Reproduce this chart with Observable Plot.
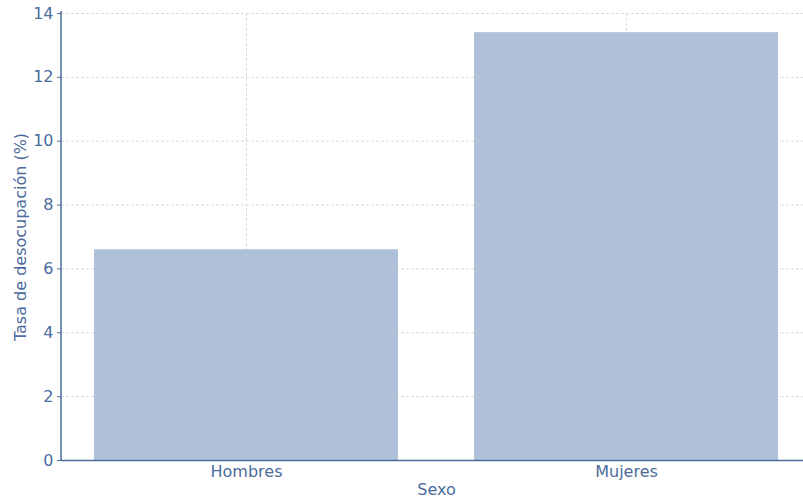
<!DOCTYPE html>
<html>
<head>
<meta charset="utf-8">
<script src="https://cdn.jsdelivr.net/npm/d3@7"></script>
<script src="https://cdn.jsdelivr.net/npm/@observablehq/plot@0.6"></script>
<style>
  html, body { margin: 0; padding: 0; background: #fff; }
  #chart svg { display: block; }
</style>
</head>
<body>
<div id="chart"></div>
<script>
const categories = ["Hombres", "Mujeres"];
const values = [6.6, 13.4];
const yTicks = [0, 2, 4, 6, 8, 10, 12, 14];
const yLabel = "Tasa de desocupación (%)";
const xLabel = "Sexo";

const data = categories.map((c, i) => ({sexo: c, tasa: values[i]}));

const axisColor = "#4a6b9b";
const barColor = "#afc1d8";
const gridColor = "#d6d6d6";

const leftSpine = (index, scales, values, dims) => {
  const g = d3.create("svg:g");
  g.append("line")
    .attr("x1", dims.marginLeft).attr("x2", dims.marginLeft)
    .attr("y1", scales.y(14) - 2).attr("y2", scales.y(0))
    .attr("stroke", axisColor).attr("stroke-width", 1.5);
  return g.node();
};

const chart = Plot.plot({
  width: 803,
  height: 501,
  marginLeft: 61,
  marginRight: 0,
  marginTop: 13,
  marginBottom: 41,
  style: {fontFamily: "DejaVu Sans", fontSize: "16px", color: axisColor, background: "#fff"},
  x: {domain: categories, range: [94, 778], paddingInner: 0.2, paddingOuter: 0, align: 0.5},
  y: {domain: [0, 14], range: [460, 13]},
  marks: [
    Plot.ruleY(yTicks, {stroke: gridColor, strokeDasharray: "3,2", strokeWidth: 0.8}),
    Plot.ruleX(categories, {x: d => d, stroke: gridColor, strokeDasharray: "3,2", strokeWidth: 0.8}),
    Plot.barY(data, {x: "sexo", y: "tasa", fill: barColor}),
    Plot.ruleY(yTicks, {stroke: "#c8d0dc", strokeDasharray: "3,2", strokeWidth: 0.6, strokeOpacity: 0.25}),
    Plot.ruleX(categories, {x: d => d, stroke: "#c8d0dc", strokeDasharray: "3,2", strokeWidth: 0.6, strokeOpacity: 0.25}),
    Plot.axisY({ticks: yTicks, tickSize: 4, tickPadding: 4, stroke: axisColor, fill: axisColor, label: null}),
    Plot.axisX({tickSize: 0, tickPadding: 5, fill: axisColor, label: null}),
    Plot.text([yLabel], {text: d => d, frameAnchor: "left", textAnchor: "middle", rotate: -90, dx: -41, fill: axisColor, fontSize: 16}),
    Plot.text([xLabel], {text: d => d, frameAnchor: "bottom", dx: 4, dy: 34, fill: axisColor, fontSize: 16}),
    Plot.ruleY([0], {stroke: axisColor, strokeWidth: 1.5}),
    leftSpine
  ]
});

document.getElementById("chart").appendChild(chart);
</script>
</body>
</html>
